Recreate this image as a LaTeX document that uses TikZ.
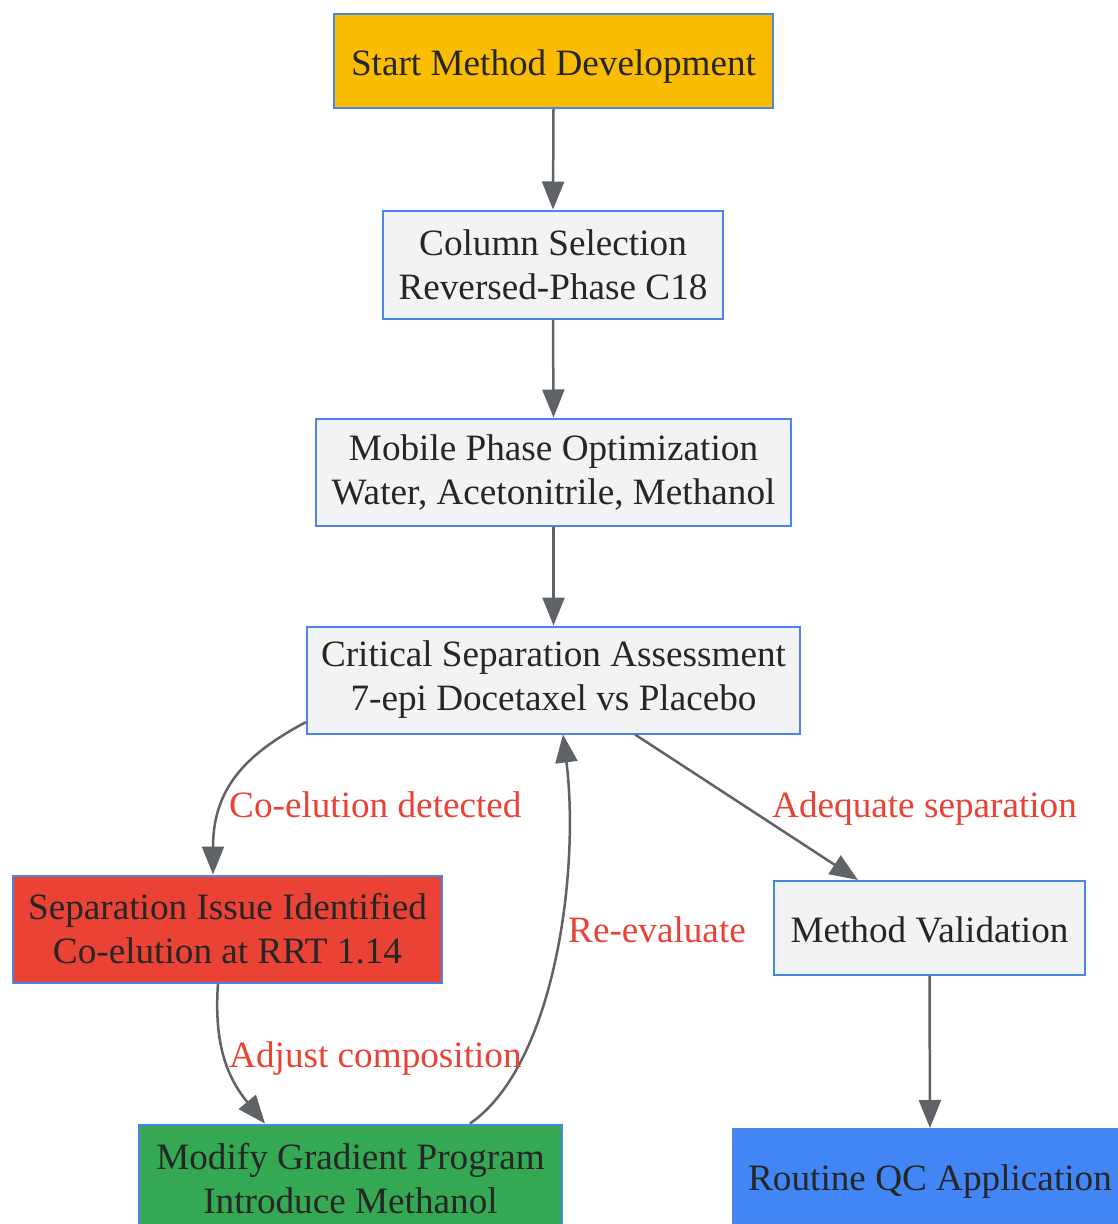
\documentclass[tikz,border=0pt]{standalone}
\usepackage{fontspec}
\setmainfont{Liberation Serif}
\usetikzlibrary{arrows.meta,calc}
\definecolor{bordblue}{HTML}{4A86E8}
\definecolor{boxgray}{HTML}{F1F3F4}
\definecolor{gyellow}{HTML}{FBBC04}
\definecolor{gred}{HTML}{EA4335}
\definecolor{ggreen}{HTML}{34A853}
\definecolor{gblue}{HTML}{4285F4}
\definecolor{edgegray}{HTML}{5F6368}
\definecolor{txt}{HTML}{262626}
\begin{document}
\begin{tikzpicture}[x=1pt,y=-1pt,
  box/.style={draw=bordblue, line width=2pt, fill=boxgray, align=center,
    inner sep=0pt, text=txt, font=\fontsize{37.2}{44}\selectfont},
  oneline/.style={text height=28pt, text depth=0pt},
  flow/.style={draw=edgegray, line width=2.5pt,
    -{Triangle[length=28pt,width=22pt]}},
  lbl/.style={text=gred, inner sep=0pt, font=\fontsize{37.2}{44}\selectfont}]
\fill[white] (0,0) rectangle (1118,1224);
\clip (0,0) rectangle (1118,1224);
\node[box, oneline, fill=gyellow, minimum width=439pt, minimum height=94pt] (start) at (553.5,61) {Start Method Development};
\node[box, minimum width=340pt, minimum height=108pt] (col) at (553,264.5) {Column Selection\\Reversed-Phase C18};
\node[box, minimum width=475pt, minimum height=107pt] (mob) at (553.5,472) {Mobile Phase Optimization\\Water, Acetonitrile, Methanol};
\node[box, minimum width=493pt, minimum height=107pt] (crit) at (553.5,680) {Critical Separation Assessment\\7-epi Docetaxel vs Placebo};
\node[box, fill=gred, minimum width=429pt, minimum height=107pt] (sep) at (227.5,929) {Separation Issue Identified\\Co-elution at RRT 1.14};
\node[box, oneline, minimum width=311pt, minimum height=94pt] (val) at (929.5,928) {Method Validation};
\node[box, fill=ggreen, minimum width=423pt, minimum height=108pt] (mod) at (350.5,1178.5) {Modify Gradient Program\\Introduce Methanol};
\node[box, oneline, fill=gblue, minimum width=394pt, minimum height=94pt] (qc) at (930,1176) {Routine QC Application};

\draw[flow] (start.south) -- (col.north);
\draw[flow] (col.south) -- (mob.north);
\draw[flow] (mob.south) -- (crit.north);
\draw[flow] ([yshift=12.5pt]crit.south west) .. controls (250,752) and (213,785) .. ([xshift=-14.5pt]sep.north);
\draw[flow] ([xshift=-9.5pt]sep.south) .. controls (214,1040) and (225,1075) .. ([xshift=-85.5pt]mod.north);
\draw[flow] ([xshift=119.5pt]mod.north) .. controls (555,1065) and (580,870) .. ([xshift=9.5pt]crit.south);
\draw[flow] ([xshift=81.5pt]crit.south) -- ([xshift=-71.5pt]val.north);
\draw[flow] (val.south) -- (qc.north);

\node[lbl, anchor=base west] (l1) at (229,817) {Co-elution detected};
\node[lbl, anchor=base west] (l2) at (229,1067) {Adjust composition};
\node[lbl, anchor=base west] (l3) at (568,942) {Re-evaluate};
\node[lbl, anchor=base west] (l4) at (772,817) {Adequate separation};
\end{tikzpicture}
\end{document}
